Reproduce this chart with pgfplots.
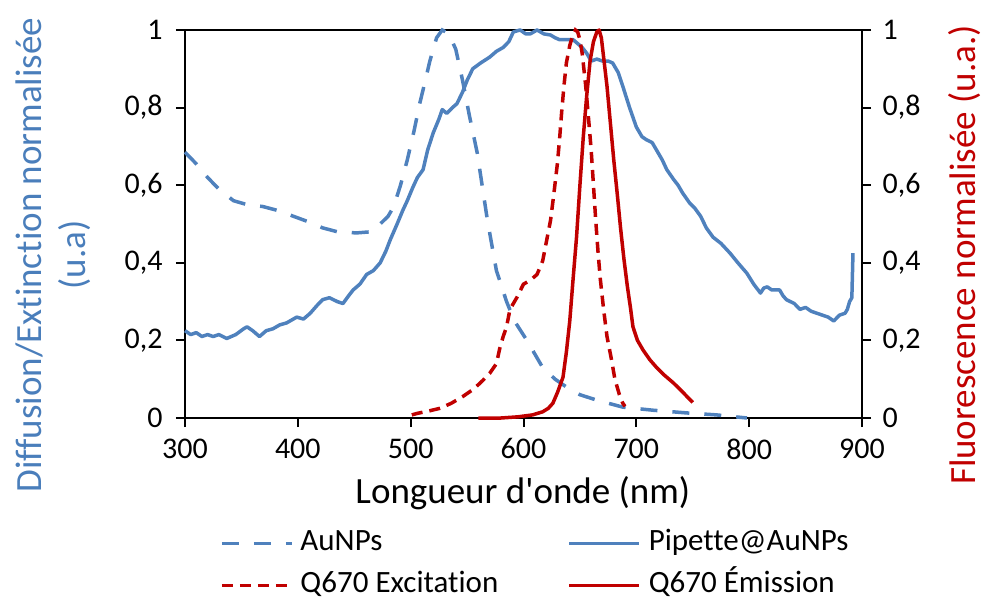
\documentclass[border=0pt]{standalone}
\usepackage{fontspec}
\setmainfont{Carlito}[Ligatures={TeX,NoCommon}]
\usepackage{pgfplots}
\pgfplotsset{compat=1.18}
\definecolor{cblue}{HTML}{4F81BD}
\definecolor{clabblue}{HTML}{4A7EBB}
\definecolor{cred}{HTML}{C00000}

\pgfplotsset{
  common/.style={
    width=677pt, height=388pt, scale only axis,
    xmin=300, xmax=900, ymin=0, ymax=1,
    tick align=outside, major tick length=9pt,
    major tick style={line width=2pt, black},
    tick label style={font=\fontsize{30}{36}\selectfont},
    label style={font=\fontsize{37}{44}\selectfont},
    /pgf/number format/assume math mode=true,
    /pgf/number format/use comma,
    ytick={0,0.2,0.4,0.6,0.8,1},
    clip=false,
  },
}

\begin{document}
\begin{tikzpicture}
\useasboundingbox (-185pt,-181pt) rectangle (799pt,418pt);
\begin{axis}[common,
  axis line style={line width=1.5pt},
  xtick={300,400,...,900},
  xtick pos=bottom, ytick pos=left,
  yticklabel style={xshift=-10pt},
  xticklabel style={yshift=-8pt},
  ylabel={Diffusion/Extinction normalisée\\(u.a)},
  ylabel style={at={(axis description cs:-0.195,0.42)}, anchor=center, align=center, text=clabblue},
  xlabel={Longueur d\textquotesingle onde (nm)},
  xlabel style={at={(axis description cs:0.499,-0.193)}, anchor=center},
]
\draw[line width=2.8pt, black] (rel axis cs:0,1) -- (rel axis cs:0,0) -- (rel axis cs:1,0);
% AuNPs
\addplot[cblue, line width=3.5pt, dash pattern=on 17pt off 15pt] coordinates {
(300,0.685)(310,0.655)(320,0.62)(330,0.59)(343,0.56)(355,0.55)(369,0.545)(382,0.535)
(396,0.52)(410,0.505)(422,0.49)(435,0.48)(452,0.477)(465,0.48)(473,0.50)(480,0.52)
(485,0.545)(491,0.60)(497,0.665)(503,0.74)(508,0.81)(513,0.87)(517,0.92)(523,0.98)
(528,1.0)(534,0.99)(540,0.95)(546,0.87)(552,0.78)(559,0.683)(568,0.51)(576,0.38)
(585,0.30)(592,0.25)(603,0.20)(617,0.13)(628,0.10)(638,0.08)(650,0.06)(665,0.046)
(688,0.028)(715,0.02)(745,0.013)(771,0.008)(798,0.0)
};
% Pipette@AuNPs
\addplot[cblue, line width=3.5pt, line join=round] coordinates {
(300,0.225)(305,0.215)(310,0.22)(315,0.21)(320,0.215)(325,0.21)(330,0.215)(337,0.205)
(345,0.215)(352,0.23)(355,0.235)(360,0.225)(366,0.21)(372,0.225)(378,0.23)(384,0.24)
(390,0.245)(399,0.26)(405,0.255)(411,0.27)(417,0.29)(422,0.305)(428,0.31)(435,0.30)
(440,0.295)(445,0.315)(449,0.33)(455,0.345)(461,0.37)(467,0.38)(473,0.40)(478,0.43)
(482,0.46)(488,0.50)(493,0.535)(497,0.56)(502,0.595)(506,0.62)(511,0.64)(515,0.69)
(520,0.735)(525,0.77)(528,0.795)(532,0.785)(537,0.80)(541,0.81)(546,0.84)(550,0.87)
(555,0.90)(562,0.915)(570,0.93)(576,0.945)(582,0.955)(587,0.97)(591,0.995)(597,1.0)
(602,0.99)(606,0.99)(612,1.0)(618,0.99)(624,0.987)(628,0.98)(632,0.975)(638,0.975)
(644,0.975)(648,0.965)(652,0.955)(656,0.94)(660,0.92)(665,0.925)(670,0.92)(675,0.92)
(679,0.915)(684,0.89)(688,0.855)(694,0.80)(700,0.75)(705,0.725)(709,0.717)(714,0.71)
(718,0.69)(723,0.665)(727,0.64)(733,0.615)(737,0.60)(741,0.58)(747,0.555)(752,0.54)
(757,0.52)(762,0.49)(768,0.466)(775,0.45)(783,0.425)(790,0.40)(798,0.373)(804,0.345)
(810,0.322)(813,0.335)(816,0.338)(820,0.33)(825,0.33)(827,0.33)(830,0.315)(833,0.305)
(840,0.295)(845,0.28)(850,0.285)(855,0.275)(860,0.27)(865,0.265)(870,0.26)(875,0.25)
(880,0.265)(885,0.27)(887,0.28)(889,0.30)(891,0.31)(892,0.425)
};
\end{axis}
\begin{axis}[common,
  axis x line=none,
  axis y line*=right,
  axis line style={line width=2.8pt},
  yticklabel style={xshift=8pt},
  ylabel={Fluorescence normalisée (u.a.)},
  ylabel style={at={(axis description cs:1.152,0.42)}, anchor=center, text=cred},
  legend columns=2,
  legend image code/.code={\draw[#1] (0pt,0pt) -- (70pt,0pt);},
  legend style={draw=none, fill=none, inner sep=0pt, outer sep=0pt,
    font=\fontsize{31}{37}\selectfont,
    row sep=16pt,
    nodes={inner sep=0pt, text height=20pt, text depth=6pt},
    /tikz/column 1/.style={column sep=7pt},
    /tikz/column 2/.style={column sep=69pt},
    /tikz/column 3/.style={column sep=8pt},
    at={(axis description cs:0.0517,-0.290)}, anchor=north west},
  legend cell align=left,
]
\addlegendimage{cblue, line width=3.5pt, dash pattern=on 17pt off 15pt}
\addlegendentry{AuNPs}
\addlegendimage{cblue, line width=3.5pt}
\addlegendentry{Pipette@AuNPs}
% Q670 Excitation
\addplot[cred, line width=3.5pt, dash pattern=on 11pt off 7pt] coordinates {
(501,0.008)(506,0.012)(516,0.018)(526,0.025)(536,0.038)(546,0.055)(556,0.075)(564,0.097)
(570,0.115)(576,0.14)(579,0.18)(582,0.21)(585,0.235)(588,0.28)(594,0.31)(600,0.345)
(606,0.355)(612,0.37)(617,0.405)(620,0.45)(624,0.51)(627,0.58)(630,0.655)(632,0.72)
(634,0.795)(636,0.86)(638,0.915)(641,0.96)(643,0.98)(646,1.0)(648,0.995)(650,0.975)
(652,0.94)(655,0.86)(658,0.76)(660,0.69)(662,0.60)(664,0.51)(666,0.43)(668,0.36)
(671,0.28)(674,0.21)(678,0.15)(681,0.10)(685,0.06)(688,0.038)(690,0.03)
};
\addlegendentry{Q670 Excitation}
% Q670 Emission
\addplot[cred, line width=3.5pt, line join=round] coordinates {
(560,0.0)(580,0.0)(595,0.003)(608,0.008)(617,0.016)(622,0.025)(626,0.038)(630,0.065)
(635,0.105)(638,0.17)(641,0.25)(644,0.36)(647,0.466)(650,0.60)(653,0.725)(656,0.83)
(659,0.92)(662,0.97)(665,0.995)(667,1.0)(669,0.98)(671,0.93)(674,0.855)(677,0.76)
(680,0.665)(683,0.58)(686,0.49)(689,0.41)(692,0.34)(695,0.28)(697,0.235)(701,0.20)
(706,0.175)(712,0.15)(718,0.13)(725,0.11)(733,0.09)(740,0.07)(748,0.046)(750,0.04)
};
\addlegendentry{Q670 Émission}
\end{axis}
\end{tikzpicture}
\end{document}
